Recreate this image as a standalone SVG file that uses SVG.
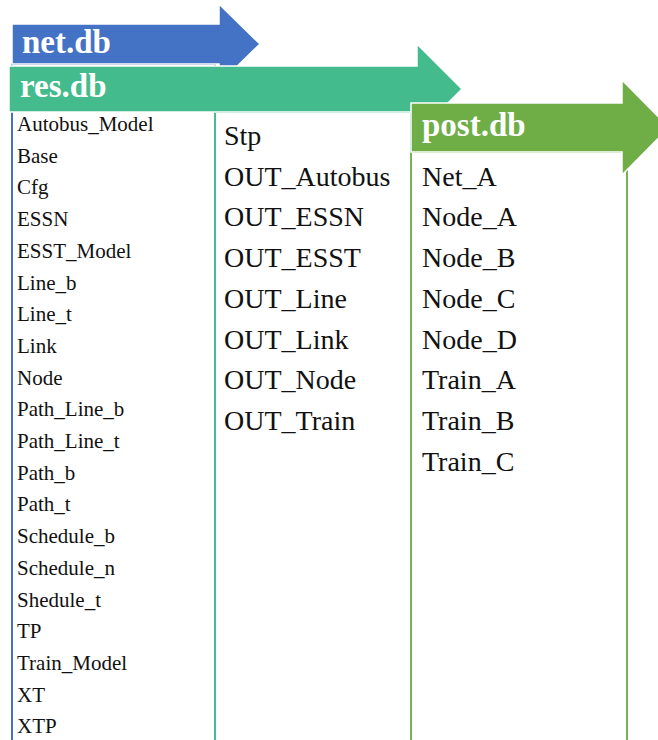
<svg xmlns="http://www.w3.org/2000/svg" width="658" height="740" viewBox="0 0 658 740">
<style>
.hdr{font-family:"Liberation Serif","Times New Roman",serif;font-weight:bold;font-size:33px;fill:#ffffff}
.sm{font-family:"Liberation Serif","Times New Roman",serif;font-size:21px;fill:#111111}
.lg{font-family:"Liberation Serif","Times New Roman",serif;font-size:28px;fill:#111111}
.arrow{stroke:#ffffff;stroke-width:1.5;stroke-linejoin:miter}
.col{fill:#ffffff;stroke-width:2}
</style>
<rect width="658" height="740" fill="#ffffff"/>
<g id="col-net">
<rect class="col" x="12" y="64" width="203" height="690" stroke="#4472C4"/>
</g>
<g id="col-res">
<rect class="col" x="215" y="112" width="196" height="640" stroke="#47BC8F"/>
</g>
<g id="col-post">
<rect class="col" x="411" y="152" width="216" height="600" stroke="#77B356"/>
</g>
<g id="net-db">
<polygon class="arrow" fill="#4472C4" points="12,24 219,24 219,4 260,44 219,84 219,64 12,64"/>
<text class="hdr" x="22" y="53">net.db</text>
</g>
<g id="res-db">
<polygon class="arrow" fill="#43BB8D" points="9,66 417,66 417,44 462,89 417,134 417,112 9,112"/>
<text class="hdr" x="20" y="97">res.db</text>
</g>
<g id="post-db">
<polygon class="arrow" fill="#6FAD47" points="411,103 622,103 622,80 669,127.5 622,175 622,152 411,152"/>
<text class="hdr" x="422" y="136">post.db</text>
</g>
<g id="net-items" class="sm">
<text x="17" y="131">Autobus_Model</text>
<text x="17" y="162.7">Base</text>
<text x="17" y="194.4">Cfg</text>
<text x="17" y="226.1">ESSN</text>
<text x="17" y="257.8">ESST_Model</text>
<text x="17" y="289.5">Line_b</text>
<text x="17" y="321.2">Line_t</text>
<text x="17" y="352.9">Link</text>
<text x="17" y="384.6">Node</text>
<text x="17" y="416.3">Path_Line_b</text>
<text x="17" y="448">Path_Line_t</text>
<text x="17" y="479.7">Path_b</text>
<text x="17" y="511.4">Path_t</text>
<text x="17" y="543.1">Schedule_b</text>
<text x="17" y="574.8">Schedule_n</text>
<text x="17" y="606.5">Shedule_t</text>
<text x="17" y="638.2">TP</text>
<text x="17" y="669.9">Train_Model</text>
<text x="17" y="701.6">XT</text>
<text x="17" y="733.3">XTP</text>
</g>
<g id="res-items" class="lg">
<text x="224" y="145">Stp</text>
<text x="224" y="185.7">OUT_Autobus</text>
<text x="224" y="226.4">OUT_ESSN</text>
<text x="224" y="267.1">OUT_ESST</text>
<text x="224" y="307.8">OUT_Line</text>
<text x="224" y="348.5">OUT_Link</text>
<text x="224" y="389.2">OUT_Node</text>
<text x="224" y="429.9">OUT_Train</text>
</g>
<g id="post-items" class="lg">
<text x="422" y="185.7">Net_A</text>
<text x="422" y="226.4">Node_A</text>
<text x="422" y="267.1">Node_B</text>
<text x="422" y="307.8">Node_C</text>
<text x="422" y="348.5">Node_D</text>
<text x="422" y="389.2">Train_A</text>
<text x="422" y="429.9">Train_B</text>
<text x="422" y="470.6">Train_C</text>
</g>
</svg>
